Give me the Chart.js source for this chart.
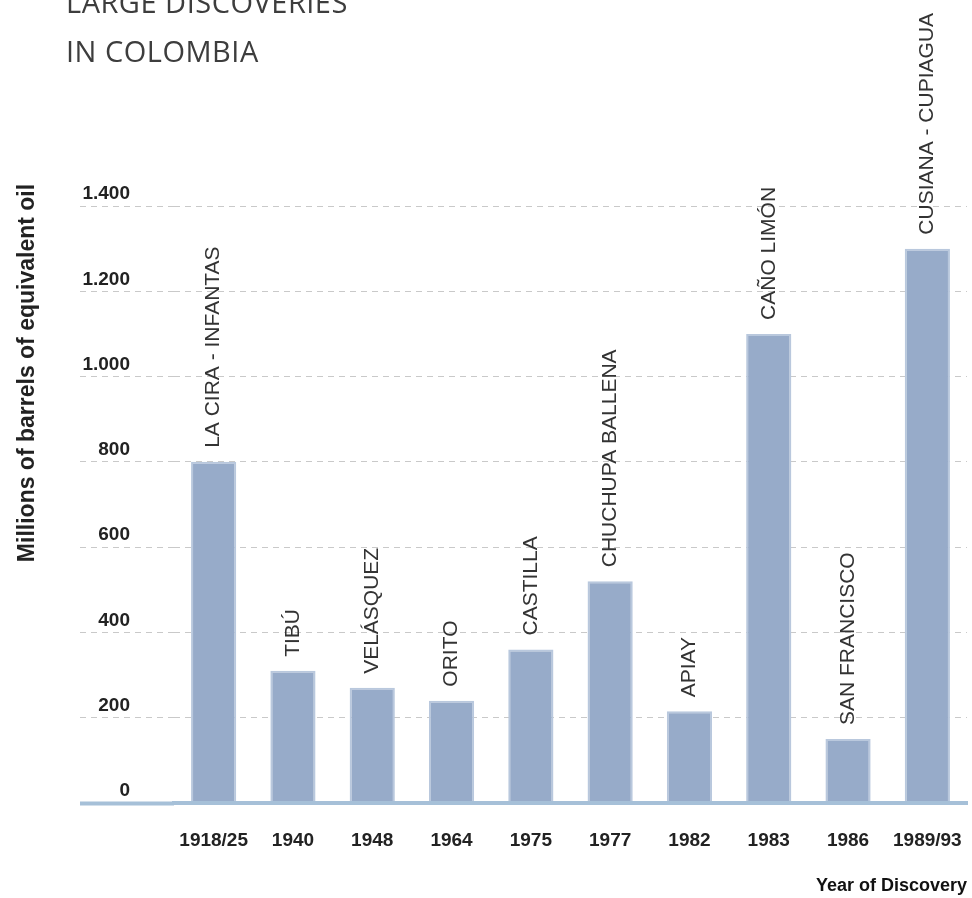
<!DOCTYPE html>
<html>
<head>
<meta charset="utf-8">
<title>Large discoveries in Colombia</title>
<script src="https://cdn.jsdelivr.net/npm/chart.js@4.4.1/dist/chart.umd.min.js"></script>
<style>
  html, body { margin: 0; padding: 0; background: #fff; }
  .wrap { position: relative; width: 972px; height: 898px; overflow: hidden; }
  .heading {
    position: absolute; left: 66px; top: -23px;
    font: 400 29px/49px 'Open Sans', sans-serif;
    color: #3d3d3d; letter-spacing: 0.5px;
  }
  canvas { position: absolute; left: 0; top: 0; }
</style>
</head>
<body>
<div class="wrap">
  <canvas id="discoveriesChart" width="972" height="898"></canvas>
  <div class="heading">LARGE DISCOVERIES<br>IN COLOMBIA</div>
</div>

<script>
// Chart data
const years = ['1918/25', '1940', '1948', '1964', '1975', '1977', '1982', '1983', '1986', '1989/93'];
const fields = [
    'LA CIRA - INFANTAS', 'TIBÚ', 'VELÁSQUEZ', 'ORITO', 'CASTILLA',
    'CHUCHUPA BALLENA', 'APIAY', 'CAÑO LIMÓN', 'SAN FRANCISCO', 'CUSIANA - CUPIAGUA'
];
const reserves = [800, 310, 270, 240, 360, 520, 215, 1100, 150, 1300];
const yTicks = [0, 200, 400, 600, 800, 1000, 1200, 1400];

const yTitle = 'Millions of barrels of equivalent oil';
const xTitle = 'Year of Discovery';

(function() {
    'use strict';

    const BASE_BLUE = '#a6c0d8';
    const GRID_GREY = '#c9c9c9';

    // thousands with a dot, as in the original (1.400)
    function fmt(v) {
        return String(v).replace(/\B(?=(\d{3})+(?!\d))/g, '.');
    }

    // Field names above the bars + rotated y title
    const barLabels = {
        id: 'barLabels',
        afterDatasetsDraw(chart) {
            const ctx = chart.ctx;
            const meta = chart.getDatasetMeta(0);
            ctx.save();
            ctx.font = '21px "Liberation Sans", Arial, sans-serif';
            ctx.fillStyle = '#333';
            ctx.textAlign = 'left';
            ctx.textBaseline = 'middle';
            meta.data.forEach(function(bar, i) {
                ctx.save();
                ctx.translate(bar.x, bar.y - 14);
                ctx.rotate(-Math.PI / 2);
                ctx.fillText(fields[i], 0, 0);
                ctx.restore();
            });

            ctx.font = 'bold 23px "Liberation Sans", Arial, sans-serif';
            ctx.fillStyle = '#222';
            ctx.textAlign = 'center';
            ctx.translate(28, 373);
            ctx.rotate(-Math.PI / 2);
            ctx.fillText(yTitle, 0, 0);
            ctx.restore();
        }
    };

    new Chart(document.getElementById('discoveriesChart'), {
        type: 'bar',
        data: {
            labels: years,
            datasets: [{
                data: reserves,
                backgroundColor: '#97abc9',
                borderColor: '#b9c8dd',
                borderWidth: 2,
                borderSkipped: 'bottom',
                barPercentage: 0.57,
                categoryPercentage: 1
            }]
        },
        options: {
            responsive: false,
            animation: false,
            devicePixelRatio: 1,
            layout: {
                padding: { top: 206, right: 5, bottom: 0, left: 0 }
            },
            plugins: {
                legend: { display: false },
                tooltip: { enabled: false }
            },
            scales: {
                x: {
                    afterFit: function(scale) { scale.height = 95; },
                    // invisible ticks push the labels down without adding side padding
                    grid: {
                        display: true,
                        drawOnChartArea: false,
                        drawTicks: true,
                        tickLength: 22,
                        color: 'rgba(0,0,0,0)',
                        tickColor: 'rgba(0,0,0,0)'
                    },
                    border: { display: true, color: BASE_BLUE, width: 4, z: 1 },
                    ticks: {
                        autoSkip: false,
                        maxRotation: 0,
                        padding: 4,
                        color: '#222',
                        font: { family: '"Liberation Sans", Arial, sans-serif', size: 19, weight: 'bold' }
                    },
                    title: {
                        display: true,
                        text: xTitle,
                        align: 'end',
                        color: '#111',
                        padding: { top: 0, bottom: 1 },
                        font: { family: '"Liberation Sans", Arial, sans-serif', size: 18, weight: 'bold' }
                    }
                },
                y: {
                    min: 0,
                    max: 1400,
                    afterFit: function(scale) { scale.width = 174; },
                    afterBuildTicks: function(scale) {
                        scale.ticks = yTicks.map(function(v) { return { value: v }; });
                    },
                    grid: {
                        color: GRID_GREY,
                        lineWidth: 1,
                        drawTicks: true,
                        tickLength: 94,
                        tickColor: function(c) { return c.tick && c.tick.value === 0 ? BASE_BLUE : GRID_GREY; },
                        tickWidth: function(c) { return c.tick && c.tick.value === 0 ? 4 : 1; },
                        tickBorderDash: function(c) { return c.tick && c.tick.value === 0 ? [] : [6, 5]; }
                    },
                    border: { display: false, dash: [6, 5] },
                    ticks: {
                        padding: -50,
                        labelOffset: -12,
                        color: '#222',
                        font: { family: '"Liberation Sans", Arial, sans-serif', size: 19, weight: 'bold' },
                        callback: function(value) { return fmt(value); }
                    }
                }
            }
        },
        plugins: [barLabels]
    });
})();
</script>
</body>
</html>
